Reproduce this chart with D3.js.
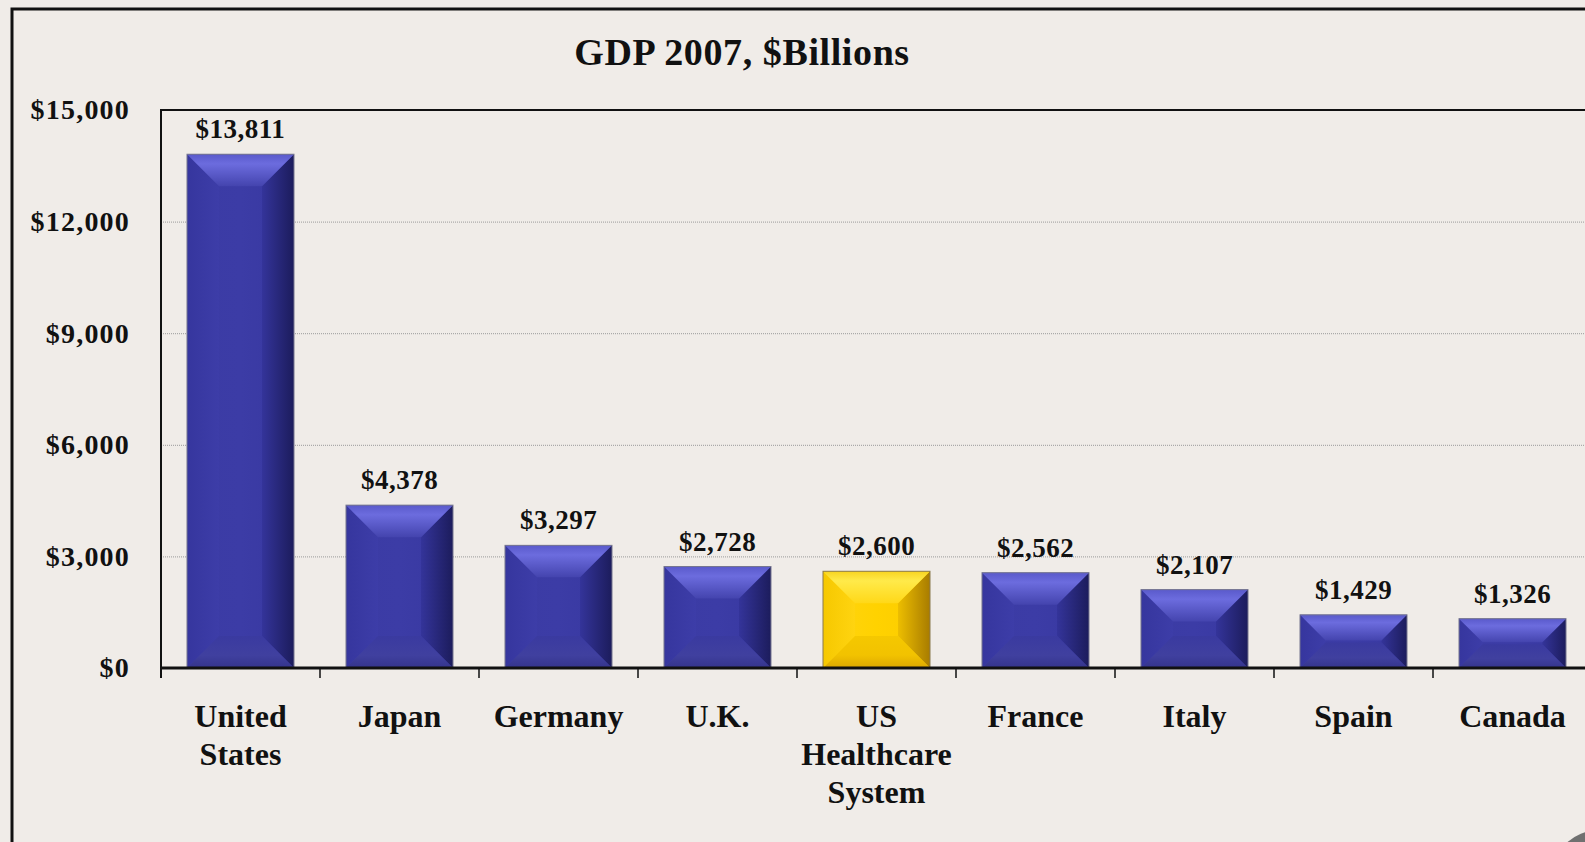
<!DOCTYPE html>
<html>
<head>
<meta charset="utf-8">
<script src="https://cdn.jsdelivr.net/npm/d3@7"></script>
<style>
  html, body { margin: 0; padding: 0; background: #F0ECE8; overflow: hidden; }
  svg { display: block; }
  text { font-family: "Liberation Serif", "DejaVu Serif", serif; font-weight: bold; fill: #111; }
</style>
</head>
<body>
<svg id="chart" width="1585" height="842"></svg>
<script>
// GDP 2007 in $ billions, with the US healthcare system shown for scale
const categories = ["United States", "Japan", "Germany", "U.K.", "US Healthcare System", "France", "Italy", "Spain", "Canada"];
const gdpValues = [13811, 4378, 3297, 2728, 2600, 2562, 2107, 1429, 1326];
const highlighted = ["US Healthcare System"];
const yTickValues = [0, 3000, 6000, 9000, 12000, 15000];
const titleText = "GDP 2007, $Billions";

const W = 1585, H = 842;
const plot = { left: 161, top: 110, bottom: 668, step: 159 };

const svg = d3.select("#chart");

// background and outer frame
svg.append("rect").attr("width", W).attr("height", H).attr("fill", "#F0ECE8");
svg.append("rect")
  .attr("x", 12).attr("y", 9).attr("width", W + 20).attr("height", H + 20)
  .attr("fill", "none").attr("stroke", "#111").attr("stroke-width", 3);

const x = d3.scaleBand()
  .domain(categories)
  .range([plot.left, plot.left + plot.step * categories.length])
  .paddingInner(0.327)
  .paddingOuter(0.1635);

const y = d3.scaleLinear().domain([0, 15000]).range([plot.bottom, plot.top]);

const fmt = v => "$" + d3.format(",")(v);

// gradients for bar faces and bevels
const defs = svg.append("defs");
function linGrad(id, x1, y1, x2, y2, stops) {
  const g = defs.append("linearGradient").attr("id", id)
    .attr("x1", x1).attr("y1", y1).attr("x2", x2).attr("y2", y2);
  stops.forEach(([o, c]) => g.append("stop").attr("offset", o).attr("stop-color", c));
}
const palettes = {
  blue: {
    face: ["#3b3ba4", "#3c3ca6", "#3838a0"],
    top: ["#5a5acb", "#6c6cde", "#4444ae"],
    bottom: ["#3a3aa0", "#40409f", "#34348c"],
    left: ["#36369e", "#3d3da8"],
    right: ["#34349a", "#1c1c5c"],
    stroke: "#77778f"
  },
  gold: {
    face: ["#FFD414", "#FFD200", "#FBCB00"],
    top: ["#F8D420", "#FFEA4A", "#FFD818"],
    bottom: ["#F5C800", "#F2C200", "#DCA800"],
    left: ["#F6C800", "#FFD410"],
    right: ["#EDBE00", "#A87C00"],
    stroke: "#8a7a50"
  }
};
Object.entries(palettes).forEach(([k, p]) => {
  linGrad(`face-${k}`, 0, 0, 1, 0, [[0, p.face[0]], [0.5, p.face[1]], [1, p.face[2]]]);
  linGrad(`top-${k}`, 0, 0, 0, 1, [[0, p.top[0]], [0.3, p.top[1]], [1, p.top[2]]]);
  linGrad(`bottom-${k}`, 0, 0, 0, 1, [[0, p.bottom[0]], [0.6, p.bottom[1]], [1, p.bottom[2]]]);
  linGrad(`left-${k}`, 0, 0, 1, 0, [[0, p.left[0]], [1, p.left[1]]]);
  linGrad(`right-${k}`, 0, 0, 1, 0, [[0, p.right[0]], [1, p.right[1]]]);
});

// horizontal gridlines
svg.append("g").selectAll("line")
  .data(yTickValues.filter(v => v > 0 && v < 15000))
  .join("line")
  .attr("x1", plot.left).attr("x2", W)
  .attr("y1", d => y(d) + 0.5).attr("y2", d => y(d) + 0.5)
  .attr("stroke", "#9a9a9a").attr("stroke-width", 1).attr("stroke-dasharray", "1,1");

// plot top border
svg.append("line")
  .attr("x1", plot.left).attr("x2", W)
  .attr("y1", y(15000)).attr("y2", y(15000))
  .attr("stroke", "#111").attr("stroke-width", 2);

// beveled bars
const bars = svg.append("g").selectAll("g")
  .data(categories.map((c, i) => ({ cat: c, value: gdpValues[i] })))
  .join("g");

bars.each(function(d) {
  const g = d3.select(this);
  const k = highlighted.includes(d.cat) ? "gold" : "blue";
  const x0 = x(d.cat), w = x.bandwidth();
  const y0 = y(d.value), y1 = y(0), h = y1 - y0;
  const b = Math.min(32, h / 2 - 1, w / 2);
  const x1 = x0 + w;
  g.append("rect").attr("x", x0).attr("y", y0).attr("width", w).attr("height", h)
    .attr("fill", `url(#face-${k})`);
  const poly = (pts, fill) => g.append("polygon")
    .attr("points", pts.map(p => p.join(",")).join(" ")).attr("fill", fill);
  poly([[x0, y0], [x0 + b, y0 + b], [x0 + b, y1 - b], [x0, y1]], `url(#left-${k})`);
  poly([[x1, y0], [x1 - b, y0 + b], [x1 - b, y1 - b], [x1, y1]], `url(#right-${k})`);
  poly([[x0, y1], [x1, y1], [x1 - b, y1 - b], [x0 + b, y1 - b]], `url(#bottom-${k})`);
  poly([[x0, y0], [x1, y0], [x1 - b, y0 + b], [x0 + b, y0 + b]], `url(#top-${k})`);
  g.append("rect").attr("x", x0).attr("y", y0).attr("width", w).attr("height", h)
    .attr("fill", "none").attr("stroke", palettes[k].stroke).attr("stroke-width", 1);
});

// value labels
svg.append("g").selectAll("text")
  .data(categories.map((c, i) => ({ cat: c, value: gdpValues[i] })))
  .join("text")
  .attr("x", d => x(d.cat) + x.bandwidth() / 2)
  .attr("y", d => y(d.value) - 16)
  .attr("text-anchor", "middle")
  .attr("font-size", 27)
  .attr("letter-spacing", 0.5)
  .text(d => fmt(d.value));

// y axis labels
const yAxis = d3.axisLeft(y).tickValues(yTickValues).tickSize(0).tickPadding(31).tickFormat(fmt);
const yg = svg.append("g").attr("transform", `translate(${plot.left},0)`).call(yAxis);
yg.select(".domain").remove();
yg.selectAll("text")
  .attr("font-size", 28)
  .attr("letter-spacing", 1.2)
  .attr("font-family", "Liberation Serif, DejaVu Serif, serif")
  .attr("font-weight", "bold")
  .attr("fill", "#111");

// left axis line
svg.append("line")
  .attr("x1", plot.left).attr("x2", plot.left)
  .attr("y1", y(15000) - 1).attr("y2", y(0) + 10)
  .attr("stroke", "#111").attr("stroke-width", 2);

// baseline and category boundary ticks
svg.append("line")
  .attr("x1", plot.left).attr("x2", W)
  .attr("y1", y(0)).attr("y2", y(0))
  .attr("stroke", "#111").attr("stroke-width", 3);
svg.append("g").selectAll("line")
  .data(categories.slice(1))
  .join("line")
  .attr("x1", d => x(d) - (x.step() - x.bandwidth()) / 2)
  .attr("x2", d => x(d) - (x.step() - x.bandwidth()) / 2)
  .attr("y1", y(0)).attr("y2", y(0) + 10)
  .attr("stroke", "#111").attr("stroke-width", 1.5);

// category labels, split on line breaks
const wrapLines = {
  "United States": ["United", "States"],
  "US Healthcare System": ["US", "Healthcare", "System"]
};
const cl = svg.append("g").selectAll("text")
  .data(categories)
  .join("text")
  .attr("x", d => x(d) + x.bandwidth() / 2)
  .attr("y", 727)
  .attr("text-anchor", "middle")
  .attr("font-size", 32);
cl.each(function(d) {
  const lines = wrapLines[d] || [d];
  const t = d3.select(this);
  lines.forEach((ln, i) => {
    t.append("tspan")
      .attr("x", x(d) + x.bandwidth() / 2)
      .attr("dy", i === 0 ? 0 : 38)
      .text(ln);
  });
});

// title
svg.append("text")
  .attr("x", 742).attr("y", 65)
  .attr("text-anchor", "middle")
  .attr("font-size", 38)
  .attr("letter-spacing", 0.6)
  .text(titleText);

// corner page curl
svg.append("circle")
  .attr("cx", 1600).attr("cy", 880).attr("r", 50)
  .attr("fill", "#707070");
</script>
</body>
</html>
